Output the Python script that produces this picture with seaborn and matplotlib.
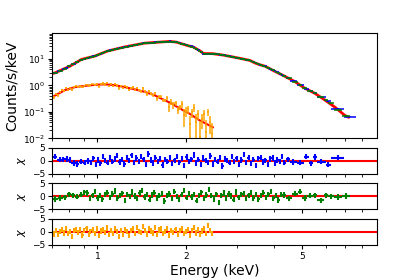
import numpy as np
import matplotlib
matplotlib.use("Agg")
import matplotlib.pyplot as plt
import seaborn as sns
from matplotlib.ticker import FixedLocator, NullFormatter

# ------------------------------------------------------------
# data (energy in keV)
# ------------------------------------------------------------
BLUE_EDGES = [0.700, 0.730, 0.755, 0.775, 0.795, 0.815, 0.842, 0.867, 0.892, 0.917, 0.942,
              0.959, 0.977, 0.995, 1.014, 1.033, 1.053, 1.073, 1.093, 1.114, 1.135,
              1.157, 1.179, 1.201, 1.224, 1.247, 1.271, 1.295, 1.320, 1.345, 1.370,
              1.396, 1.423, 1.450, 1.477, 1.505, 1.534, 1.563, 1.592, 1.622, 1.653,
              1.685, 1.717, 1.749, 1.782, 1.816, 1.850, 1.885, 1.921, 1.957, 1.994,
              2.032, 2.071, 2.110, 2.150, 2.191, 2.232, 2.274, 2.317, 2.361, 2.406,
              2.451, 2.498, 2.545, 2.593, 2.642, 2.692, 2.743, 2.795, 2.848, 2.902,
              2.957, 3.013, 3.070, 3.128, 3.188, 3.248, 3.310, 3.372, 3.436, 3.501,
              3.568, 3.635, 3.704, 3.774, 3.846, 3.919, 3.993, 4.069, 4.146, 4.225,
              4.305, 4.387,
              4.55, 4.78, 5.05, 5.28, 5.45, 5.62, 6.00, 6.25, 6.95, 7.60]
BLUE_FLUX = [2.95, 3.5, 4.1, 4.6, 5.3, 6.4, 7.8, 9.3, 10.3, 11.1,
             11.8, 12.4, 13.3, 14.4, 15.6, 16.9, 18.3, 19.9, 20.9, 21.9,
             23.0, 24.1, 25.3, 26.6, 28.0, 29.2, 30.4, 31.7, 33.0, 34.4,
             35.9, 37.4, 38.9, 40.0, 40.5, 40.9, 41.4, 41.8, 42.4, 43.0,
             43.6, 44.4, 45.0, 45.7, 44.8, 43.9, 42.9, 39.8, 37.2, 35.3,
             33.1, 31.0, 29.5, 27.5, 24.5, 21.4, 18.2, 15.9, 15.8, 15.8,
             15.8, 15.6, 15.3, 15.0, 14.5, 14.1, 13.7, 13.2, 12.6, 12.1,
             11.6, 11.1, 10.7, 10.2, 9.8, 9.4, 9.0, 8.2, 7.4, 6.9,
             6.3, 5.9, 5.56, 5.27, 4.7, 4.2, 3.8, 3.4, 3.1, 2.8,
             2.5, 2.25,
             1.95, 1.5, 1.0, 0.75, 0.6, 0.5, 0.36, 0.25, 0.13, 0.066]
BLUE_CHI = [1.5, 0.4, 0.5, 0.7, 0.3, -0.9, -1.2, -0.3, -0.8, -0.1,
            -0.6, 0.9, -1.4, 0.3, -1.0, 1.6, 0.2, -0.8, 1.1, -0.3,
            0.7, 1.9, -0.5, 0.4, -1.2, 1.3, 0.0, 2.1, -0.7, 1.0,
            -0.2, 1.5, 0.6, -1.3, 2.6, 0.3, -0.9, 1.2, -0.4, 0.8,
            -1.6, 0.5, -0.3, 1.1, -1.1, 0.2, 1.7, -0.6, 0.9, -1.8,
            1.4, -0.2, 0.6, 2.2, -0.9, 0.4, -1.5, 1.0, 0.1, -0.7,
            1.8, -1.2, 0.5, -0.4, 1.3, -2.0, 0.7, 0.2, -0.8, 1.6,
            -0.3, 0.9, -1.4, 0.3, 2.4, -0.6, 1.1, -1.0, 0.4, -1.7,
            0.8, 1.2, -0.5, 0.1, -1.3, 0.7, 1.0, -0.9, 0.3, -0.4,
            1.5, -0.8,
            0.6, -0.5, -0.8, 1.5, -1.0, 1.4, -0.3, -1.5, 1.2, np.nan]

GREEN_EDGES = [0.700, 0.735, 0.760, 0.790, 0.815, 0.840, 0.865, 0.890, 0.912, 0.935,
               0.953, 0.972, 0.991, 1.010, 1.030, 1.050, 1.071, 1.092, 1.113, 1.135,
               1.157, 1.180, 1.203, 1.227, 1.251, 1.276, 1.301, 1.326, 1.352, 1.379,
               1.406, 1.434, 1.462, 1.491, 1.520, 1.550, 1.580, 1.611, 1.643, 1.675,
               1.708, 1.742, 1.776, 1.811, 1.846, 1.882, 1.919, 1.957, 1.995, 2.034,
               2.074, 2.115, 2.157, 2.199, 2.242, 2.286, 2.331, 2.377, 2.424, 2.471,
               2.520, 2.569, 2.619, 2.671, 2.723, 2.777, 2.831, 2.887, 2.944, 3.001,
               3.060, 3.120, 3.182, 3.244, 3.308, 3.373, 3.439, 3.507, 3.576, 3.646,
               3.718, 3.791, 3.866, 3.942, 4.019, 4.098, 4.179, 4.261,
               4.40, 4.60, 4.85, 5.00, 5.20, 5.45, 5.60, 5.95, 6.10, 6.40, 6.85, 7.25]
GREEN_FLUX = [3.0, 3.65, 4.3, 5.2, 6.3, 7.6, 9.1, 10.2, 10.9,
              11.6, 12.2, 12.9, 14.1, 15.3, 16.7, 18.0, 19.6, 20.8, 21.9,
              23.0, 24.1, 25.3, 26.7, 28.0, 29.4, 30.7, 32.0, 33.4, 34.9,
              36.4, 38.0, 39.4, 40.2, 40.7, 41.2, 41.6, 42.1, 42.8, 43.4,
              44.2, 44.9, 45.5, 45.0, 44.0, 42.7, 40.0, 37.2, 35.2, 33.0,
              30.9, 29.3, 27.0, 23.8, 20.7, 17.6, 15.9, 15.8, 15.8, 15.7,
              15.4, 15.1, 14.8, 14.3, 13.9, 13.4, 12.8, 12.3, 11.7, 11.2,
              10.8, 10.3, 9.8, 9.4, 9.0, 8.2, 7.4, 6.85, 6.3, 5.85,
              5.5, 5.15, 4.6, 4.1, 3.7, 3.3, 3.0, 2.65,
              2.3, 1.85, 1.4, 1.05, 0.8, 0.63, 0.5, 0.37, 0.27, 0.21, 0.12, 0.07]
GREEN_CHI = [-1.0, -0.6, -0.4, 0.8, 0.3, -0.2, 0.6, 1.5, 1.2,
             -0.9, 0.4, 1.8, -0.6, 0.2, -1.1, 0.7, 1.3, -0.4, 0.9,
             2.0, -0.7, 0.3, 1.1, -1.5, 0.6, -0.2, 1.6, 0.1, -0.9,
             1.2, 2.3, -0.3, 0.8, -1.3, 0.5, 1.4, -0.6, 0.2, 1.0,
             -1.8, 0.4, 0.9, -0.8, 1.7, 0.0, -1.2, 0.6, 2.2, -0.5,
             1.1, -0.3, 0.7, -1.6, 0.3, 1.5, -0.9, 0.5, 2.5, 0.2,
             -1.0, 0.8, -2.4, 0.4, 1.2, -0.7, 0.9, 0.1, -1.3, 1.6,
             -0.4, 0.6, 1.0, -0.9, 0.3, 1.4, -0.6, 0.8, -1.1, 0.2,
             1.3, -0.5, 0.7, 1.9, -0.8, 0.4, -1.4, 0.6,
             0.5, -0.8, 1.0, 1.8, -0.7, 0.2, 0.3, -1.5, 0.4, 0.0, -0.3, 0.1]

ORANGE_EDGES = [0.694, 0.705, 0.717, 0.728, 0.740, 0.752, 0.764, 0.776, 0.789, 0.801,
                0.814, 0.827, 0.840, 0.854, 0.868, 0.881, 0.896, 0.910, 0.925, 0.939,
                0.954, 0.970, 0.985, 1.001, 1.017, 1.033, 1.050, 1.067, 1.084, 1.101,
                1.119, 1.137, 1.155, 1.173, 1.192, 1.211, 1.231, 1.250, 1.270, 1.291,
                1.311, 1.332, 1.354, 1.375, 1.397, 1.420, 1.443, 1.466, 1.489, 1.513,
                1.537, 1.562, 1.587, 1.613, 1.638, 1.665, 1.691, 1.718, 1.746, 1.774,
                1.802, 1.831, 1.861, 1.890, 1.921, 1.951, 1.983, 2.014, 2.047, 2.080,
                2.113, 2.147, 2.181, 2.216, 2.252, 2.288, 2.325, 2.362, 2.400, 2.438,
                2.477]
ORANGE_FLUX = [0.373, 0.362, 0.477, 0.434, 0.563, 0.665, 0.619, 0.789, 0.695, 0.776,
               0.700, 0.891, 0.945, 0.869, 0.968, 0.845, 0.986, 1.079, 0.919, 1.026,
               1.088, 1.008, 1.153, 0.920, 1.112, 1.188, 1.078, 1.254, 0.972, 1.113,
               0.967, 1.142, 0.990, 0.770, 0.975, 0.792, 0.929, 0.847, 0.680, 0.801,
               0.836, 0.667, 0.796, 0.657, 0.592, 0.765, 0.607, 0.466, 0.590, 0.491,
               0.418, 0.515, 0.323, 0.381, 0.373, 0.273, 0.278, 0.331, 0.158, 0.242,
               0.181, 0.213, 0.120, 0.152, 0.200, 0.079, 0.109, 0.128, 0.035, 0.096,
               0.146, 0.043, 0.086, 0.011, 0.053, 0.083, 0.017, 0.101, 0.041, 0.015]
ORANGE_ERR = [0.043, 0.048, 0.054, 0.060, 0.066, 0.072, 0.078, 0.083, 0.058, 0.062,
              0.065, 0.068, 0.070, 0.071, 0.073, 0.075, 0.076, 0.078, 0.079, 0.081,
              0.082, 0.084, 0.085, 0.107, 0.108, 0.109, 0.110, 0.109, 0.108, 0.106,
              0.104, 0.102, 0.099, 0.095, 0.092, 0.089, 0.086, 0.083, 0.080, 0.077,
              0.074, 0.071, 0.068, 0.065, 0.093, 0.089, 0.085, 0.080, 0.075, 0.071,
              0.067, 0.062, 0.057, 0.052, 0.048, 0.044, 0.041, 0.061, 0.056, 0.053,
              0.048, 0.043, 0.039, 0.035, 0.057, 0.052, 0.047, 0.042, 0.038, 0.035,
              0.048, 0.042, 0.037, 0.034, 0.031, 0.036, 0.032, 0.030, 0.027, 0.024]
ORANGE_CHI = [0.3, -0.8, 0.5, -1.1, 0.2, 0.9, -0.4, 1.2, -0.6, 0.1,
              -1.7, 0.6, 1.0, -0.3, 0.8, -1.2, 0.4, 1.4, -0.9, 0.2,
              0.7, -0.5, 1.1, -1.4, 0.3, 0.9, -0.2, 1.5, -1.0, 0.5,
              -0.7, 1.2, 0.0, -1.9, 0.6, -1.1, 0.8, 0.2, -1.5, 0.4,
              1.3, -0.6, 1.7, 0.1, -0.3, 1.9, 0.5, -0.8, 1.2, 0.3,
              -0.4, 1.6, -1.0, 0.7, 1.1, -0.5, 0.2, 1.4, -1.2, 0.6,
              -0.2, 1.0, -0.9, 0.4, 1.3, -0.7, 0.1, 0.8, -1.3, 0.5,
              1.6, -0.4, 0.9, -1.1, 0.3, 1.2, -0.6, 2.3, 0.4, -0.5]

# model curves (red)
MODEL_E = [0.70, 0.715, 0.805, 0.882, 0.979, 1.085, 1.24, 1.45, 1.57, 1.77,
           1.86, 1.96, 2.05, 2.12, 2.24, 2.30, 2.47, 2.68, 2.99, 3.31,
           3.44, 3.57, 3.73, 4.03, 4.36, 4.71, 5.10, 5.52, 5.97, 6.46,
           6.98, 7.2]
MODEL_FLUX = [2.8, 2.95, 5.3, 9.6, 12.8, 20, 28.5, 39.5, 42, 46,
              43, 36, 31, 28.5, 20, 16, 15.8, 14, 11.1, 8.8,
              7.1, 6.1, 5.3, 3.4, 2.2, 1.4, 0.78, 0.50, 0.28, 0.15,
              0.074, 0.062]
ORANGE_MODEL_E = [0.70, 0.774, 0.837, 0.905, 0.979, 1.06, 1.146, 1.24, 1.34, 1.45,
                  1.57, 1.63, 1.77, 1.91, 2.07, 2.23, 2.42, 2.48]
ORANGE_MODEL_FLUX = [0.36, 0.66, 0.86, 0.96, 1.05, 1.10, 1.02, 0.86, 0.71, 0.57,
                     0.42, 0.34, 0.22, 0.135, 0.083, 0.048, 0.030, 0.026]

REL_ERR = 0.06          # blue / green flux errors, fraction of flux
X_TICKS = [1, 2, 5]
X_MINOR = [0.7, 0.8, 0.9, 3, 4, 6, 7, 8]


def bins(edges):
    e = np.asarray(edges)
    lo, hi = e[:-1], e[1:]
    c = np.sqrt(lo * hi)
    return c, np.vstack([c - lo, hi - c])


sns.set_style("ticks", rc={"axes.edgecolor": "black", "text.color": "black",
                           "axes.labelcolor": "black", "xtick.color": "black",
                           "ytick.color": "black"})
plt.rcParams['font.family'] = ['DejaVu Sans']

fig = plt.figure(figsize=(4.2, 2.8), dpi=100)
gs = fig.add_gridspec(4, 1, height_ratios=[4, 1, 1, 1], hspace=0.2,
                      left=0.124, right=0.898, top=0.882, bottom=0.125)
ax = fig.add_subplot(gs[0])
rax = [fig.add_subplot(gs[i], sharex=ax) for i in (1, 2, 3)]

ax.set_xscale('log')
ax.set_yscale('log')

series = [
    (BLUE_EDGES, BLUE_FLUX, None, BLUE_CHI, 'blue'),
    (GREEN_EDGES, GREEN_FLUX, None, GREEN_CHI, 'green'),
    (ORANGE_EDGES, ORANGE_FLUX, ORANGE_ERR, ORANGE_CHI, 'orange'),
]

# models below the data
sns.lineplot(x=MODEL_E, y=MODEL_FLUX, ax=ax, color='red', lw=2, zorder=1)
sns.lineplot(x=ORANGE_MODEL_E, y=ORANGE_MODEL_FLUX, ax=ax, color='red', lw=1.5, zorder=1)

for (edges, flux, err, chi, col), rx in zip(series, rax):
    c, xerr = bins(edges)
    flux = np.asarray(flux)
    yerr = np.asarray(err) if err is not None else flux * REL_ERR
    ax.errorbar(c, flux, xerr=xerr, yerr=yerr, fmt='none', ecolor=col,
                elinewidth=1.1, capsize=0, zorder=2)

    rx.axhline(0, color='red', lw=1.5, zorder=1)
    rx.errorbar(c, chi, xerr=xerr, yerr=1.0, fmt='none', ecolor=col,
                elinewidth=1.5, capsize=0, zorder=2)
    rx.set_ylim(-5, 5)
    rx.set_yticks([-5, 0, 5])
    rx.set_ylabel(r'$\chi$', fontsize=8, labelpad=3)
    rx.tick_params(labelsize=6.5, length=3, width=0.8, pad=2)
    rx.tick_params(which='minor', length=2, width=0.6)

ax.set_xlim(0.7, 9.0)
ax.set_ylim(0.01, 95)
ax.set_ylabel('Counts/s/keV', fontsize=10, labelpad=3)
ax.tick_params(labelsize=6.5, length=3, width=0.8, pad=2)
ax.tick_params(which='minor', length=2, width=0.6)

for a in [ax] + rax:
    a.xaxis.set_major_locator(FixedLocator(X_TICKS))
    a.xaxis.set_minor_locator(FixedLocator(X_MINOR))
    a.xaxis.set_minor_formatter(NullFormatter())
for a in [ax] + rax[:2]:
    a.tick_params(axis='x', labelbottom=False)

rax[2].set_xticklabels([str(t) for t in X_TICKS])
rax[2].set_xlabel('Energy (keV)', fontsize=10, labelpad=2)

fig.savefig('out.png', dpi=100)
